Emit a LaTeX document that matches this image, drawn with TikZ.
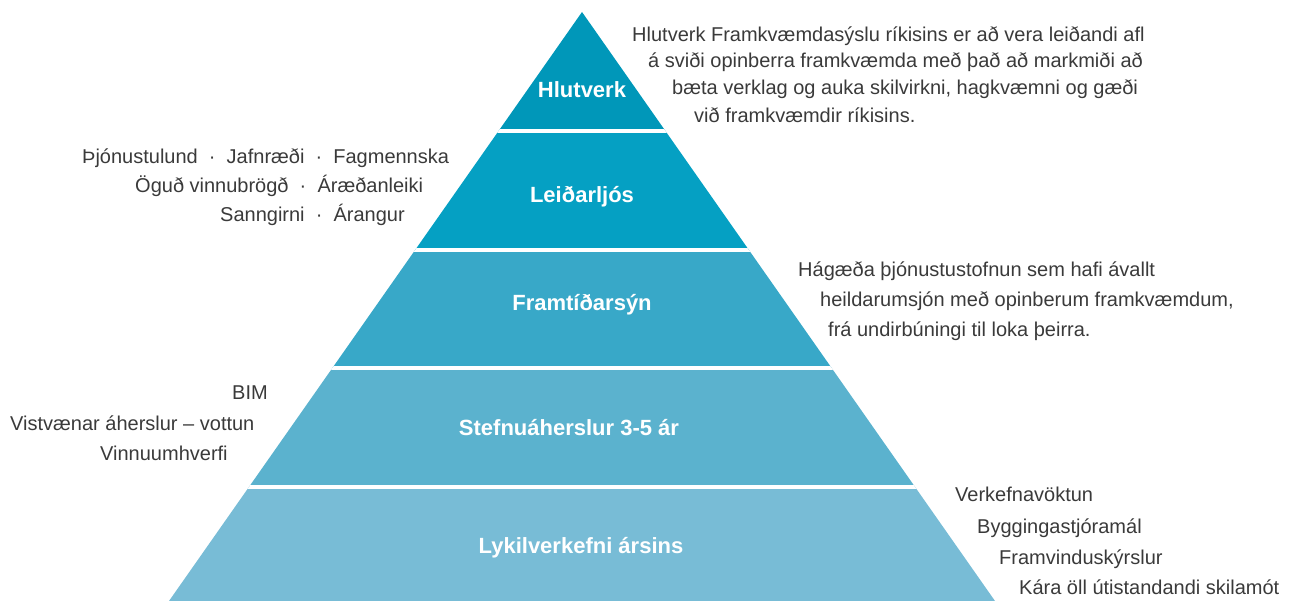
\documentclass[tikz,border=0pt]{standalone}
\usepackage{fontspec}
\setmainfont{Liberation Sans}
\usepackage{xcolor}
\usepackage{tikz}
\usetikzlibrary{positioning}
\definecolor{tierA}{HTML}{0097B9}
\definecolor{tierB}{HTML}{05A0C3}
\definecolor{tierC}{HTML}{38A8C8}
\definecolor{tierD}{HTML}{5BB2CE}
\definecolor{tierE}{HTML}{78BCD6}
\definecolor{textgray}{HTML}{3A3A3A}
\tikzset{pyramid/.style={x=1pt,y=-1pt},
    tier label/.style={text=white,font=\fontsize{22}{26}\selectfont\bfseries,anchor=base,inner sep=0pt},
    side text/.style={text=textgray,font=\fontsize{20}{24}\selectfont,anchor=base west,inner sep=0pt},
    tier gap/.style={white,line width=4pt}}

\begin{document}
\begin{tikzpicture}[pyramid]
    \useasboundingbox (0,0) rectangle (1295,601);
    \coordinate (apex) at (582,12);
    \coordinate (baseL) at (169,601);
    \coordinate (baseR) at (995,601);

    % tiers
    \begin{scope}
        \clip (apex) -- (baseR) -- (baseL) -- cycle;
        \fill[tierA] (0,0) rectangle (1295,131.5);
        \fill[tierB] (0,131.5) rectangle (1295,250);
        \fill[tierC] (0,250) rectangle (1295,368.3);
        \fill[tierD] (0,368.3) rectangle (1295,486.7);
        \fill[tierE] (0,486.7) rectangle (1295,601);
        \draw[tier gap] (0,131.5) -- (1295,131.5);
        \draw[tier gap] (0,250) -- (1295,250);
        \draw[tier gap] (0,368.3) -- (1295,368.3);
        \draw[tier gap] (0,486.7) -- (1295,486.7);
    \end{scope}

    % tier names
    \node[tier label] (hlutverk) at (582,98) {Hlutverk};
    \node[tier label] (leidarljos) at (582,203) {Leiðarljós};
    \node[tier label] (framtidarsyn) at (582,311) {Framtíðarsýn};
    \node[tier label] (stefnu) at (569,435) {Stefnuáherslur 3-5 ár};
    \node[tier label] (lykil) at (581,553) {Lykilverkefni ársins};

    % Hlutverk
    \node[side text] (hlut1) at (632,42) {Hlutverk Framkvæmdasýslu ríkisins er að vera leiðandi afl};
    \node[side text] (hlut2) at (648,68) {á sviði opinberra framkvæmda með það að markmiði að};
    \node[side text] (hlut3) at (672,95) {bæta verklag og auka skilvirkni, hagkvæmni og gæði};
    \node[side text] (hlut4) at (694,123) {við framkvæmdir ríkisins.};

    % Leiðarljós
    \node[side text] (leid1) at (82,164) {Þjónustulund \ · \ Jafnræði \ · \ Fagmennska};
    \node[side text] (leid2) at (135,193) {Öguð vinnubrögð \ · \ Áræðanleiki};
    \node[side text] (leid3) at (220,222) {Sanngirni \ · \ Árangur};

    % Framtíðarsýn
    \node[side text] (syn1) at (798,277) {Hágæða þjónustustofnun sem hafi ávallt};
    \node[side text] (syn2) at (820,307) {heildarumsjón með opinberum framkvæmdum,};
    \node[side text] (syn3) at (828,337) {frá undirbúningi til loka þeirra.};

    % Stefnuáherslur
    \node[side text] (stef1) at (232,399) {BIM};
    \node[side text] (stef2) at (10,430) {Vistvænar áherslur – vottun};
    \node[side text] (stef3) at (100,460) {Vinnuumhverfi};

    % Lykilverkefni
    \node[side text] (lyk1) at (955,501) {Verkefnavöktun};
    \node[side text] (lyk2) at (977,533) {Byggingastjóramál};
    \node[side text] (lyk3) at (999,564) {Framvinduskýrslur};
    \node[side text] (lyk4) at (1019,594) {Kára öll útistandandi skilamót};
\end{tikzpicture}
\end{document}
